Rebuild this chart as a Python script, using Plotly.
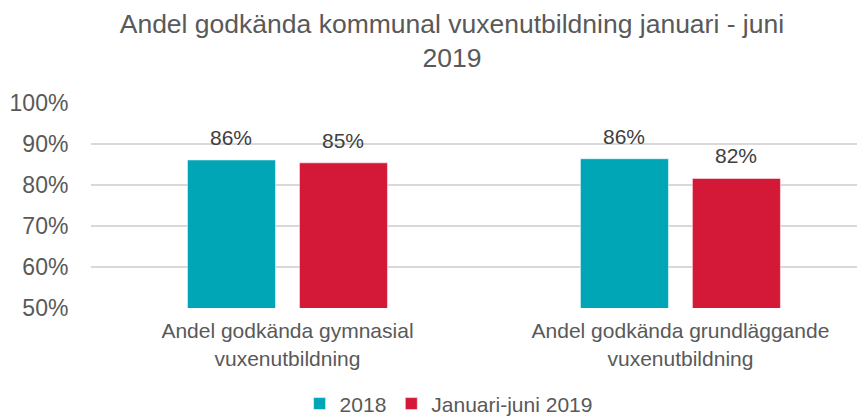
import plotly.graph_objects as go

categories = ["Andel godkända gymnasial<br>vuxenutbildning", "Andel godkända grundläggande<br>vuxenutbildning"]
series_names = ["2018", "Januari-juni 2019"]
values_2018 = [0.861, 0.864]
values_2019 = [0.854, 0.816]
y_ticks = [0.5, 0.6, 0.7, 0.8, 0.9, 1.0]
title_text = "Andel godkända kommunal vuxenutbildning januari - juni<br>2019"

colors = ["#00A6B6", "#D41938"]
font_family = "Liberation Sans, Arial, sans-serif"
text_color = "#595959"

# page has an 8px body margin; figure sized to fit the 865x417 window
W, H = 857, 409
L, T, PH = 83, 95, 205
BARGAP = 0.43
fig = go.Figure()
series_vals = [values_2018, values_2019]
for name, vals, col in zip(series_names, series_vals, colors):
    fig.add_trace(go.Bar(
        name=name,
        x=[0, 1],
        y=vals,
        marker=dict(color=col, line=dict(color="rgba(255,255,255,0.5)", width=1)),
        cliponaxis=False,
    ))

# value labels above each bar (positions derived from category index and bar gap)
slot = (1 - BARGAP) / len(series_vals)
for si, vals in enumerate(series_vals):
    off = -(1 - BARGAP) / 2 + slot * (si + 0.5)
    for ci, v in enumerate(vals):
        fig.add_annotation(x=ci + off, y=v, xref="x", yref="y", text=f"{round(v*100)}%",
                           showarrow=False, xanchor="center", yanchor="bottom", yshift=9,
                           font=dict(size=21, color="#404040", family=font_family))

fig.update_layout(
    width=W, height=H,
    paper_bgcolor="white", plot_bgcolor="white",
    margin=dict(l=L, r=0, t=T, b=H - T - PH, autoexpand=False),
    barmode="group",
    bargap=BARGAP,
    bargroupgap=0.214,
    title=dict(text=title_text, x=0.518, xanchor="center", y=0.939, yanchor="middle", yref="container",
               font=dict(size=26.5, color=text_color, family=font_family)),
    font=dict(family=font_family, color=text_color, size=19),
    legend=dict(orientation="h", x=0.462, xanchor="center", y=-0.468, yanchor="middle",
                font=dict(size=21, color=text_color), traceorder="normal",
                itemwidth=30),
    showlegend=True,
)
fig.update_xaxes(
    range=[-0.5, -0.5 + (865 - 91.3) / 392.8],
    tickvals=[0, 1], ticktext=categories,
    showgrid=False, zeroline=False, showline=False,
    ticks="outside", ticklen=4, tickcolor="rgba(0,0,0,0)",
    tickfont=dict(size=21, color=text_color),
)
fig.update_yaxes(
    range=[0.5, 1.0], tickvals=y_ticks, tickformat=".0%",
    showgrid=True, gridcolor="#D9D9D9", gridwidth=1.5,
    zeroline=False, showline=False,
    ticks="outside", ticklen=17, tickcolor="rgba(0,0,0,0)",
    tickfont=dict(size=23, color=text_color),
)

fig.write_html("out.html")
